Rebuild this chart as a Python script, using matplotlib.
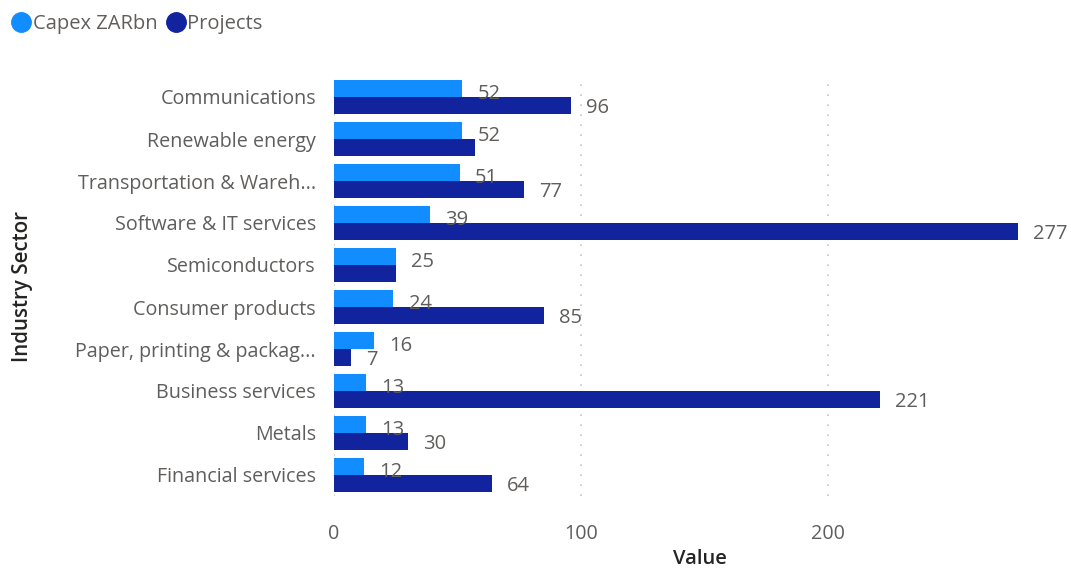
import matplotlib
matplotlib.use("Agg")
import matplotlib.pyplot as plt
from matplotlib.lines import Line2D
import numpy as np

plt.rcParams['font.family'] = ['Open Sans', 'DejaVu Sans']

sectors = [
    "Communications",
    "Renewable energy",
    "Transportation & Wareh...",
    "Software & IT services",
    "Semiconductors",
    "Consumer products",
    "Paper, printing & packag...",
    "Business services",
    "Metals",
    "Financial services",
]
capex = [52, 52, 51, 39, 25, 24, 16, 13, 13, 12]
projects = [96, 57, 77, 277, 25, 85, 7, 221, 30, 64]
# labels that the chart leaves out because they would collide
hide_capex = []
hide_projects = ["Renewable energy", "Semiconductors"]

series_names = ["Capex ZARbn", "Projects"]
colors = ["#118DFF", "#12239E"]
xticks = [0, 100, 200]

TEXT_GREY = "#605E5C"
TITLE_DARK = "#252423"

fig = plt.figure(figsize=(10.71, 5.68), dpi=100)
ax_w = (1066 - 334) / 1071
ax = fig.add_axes([334 / 1071, 1 - 496 / 568, ax_w, (496 - 76) / 568])

y = np.arange(len(sectors))
h = 0.405
ax.barh(y - h / 2, capex, height=h, color=colors[0], zorder=3)
ax.barh(y + h / 2, projects, height=h, color=colors[1], zorder=3)

ax.set_xlim(0, 296.5)
ax.set_ylim(len(sectors) - 0.5, -0.5)

# value labels outside the bar ends
for i, name in enumerate(sectors):
    if name not in hide_capex:
        ax.annotate(f"{capex[i]}", xy=(capex[i], y[i] - h / 2), xytext=(11, -4),
                    textcoords="offset points", ha="left", va="center",
                    fontsize=14.5, color=TEXT_GREY, zorder=4)
    if name not in hide_projects:
        ax.annotate(f"{projects[i]}", xy=(projects[i], y[i] + h / 2), xytext=(11, -2),
                    textcoords="offset points", ha="left", va="center",
                    fontsize=14.5, color=TEXT_GREY, zorder=4)

ax.set_yticks(y)
ax.set_yticklabels(sectors, fontsize=14.2, color=TEXT_GREY)
ax.set_xticks(xticks)
ax.set_xticklabels([str(t) for t in xticks], fontsize=14.2, color=TEXT_GREY)
ax.tick_params(axis="both", length=0)
ax.tick_params(axis="y", pad=13)
ax.tick_params(axis="x", pad=20)

for s in ax.spines.values():
    s.set_visible(False)

ax.grid(axis="x", color="#C8C6C4", linestyle=(0, (1, 5)), linewidth=1.2, zorder=0)
ax.set_axisbelow(True)

ax.set_xlabel("Value", fontsize=14.5, color=TITLE_DARK, fontweight="semibold", labelpad=3.5)
ax.set_ylabel("Industry Sector", fontsize=14.8, color=TITLE_DARK, fontweight="semibold")
ax.yaxis.set_label_coords(-(334 - 33) / (1066 - 334), 0.5)

handles = [Line2D([], [], marker="o", linestyle="none", markersize=14,
                  markerfacecolor=c, markeredgecolor=c) for c in colors]
fig.legend(handles, series_names, loc="upper left", bbox_to_anchor=(0.005, 0.986),
           frameon=False, ncol=2, fontsize=14.5, labelcolor=TEXT_GREY,
           handletextpad=0.05, columnspacing=0.45, borderaxespad=0.0,
           borderpad=0.3, handlelength=1.0)

fig.savefig("out.png", dpi=100)
